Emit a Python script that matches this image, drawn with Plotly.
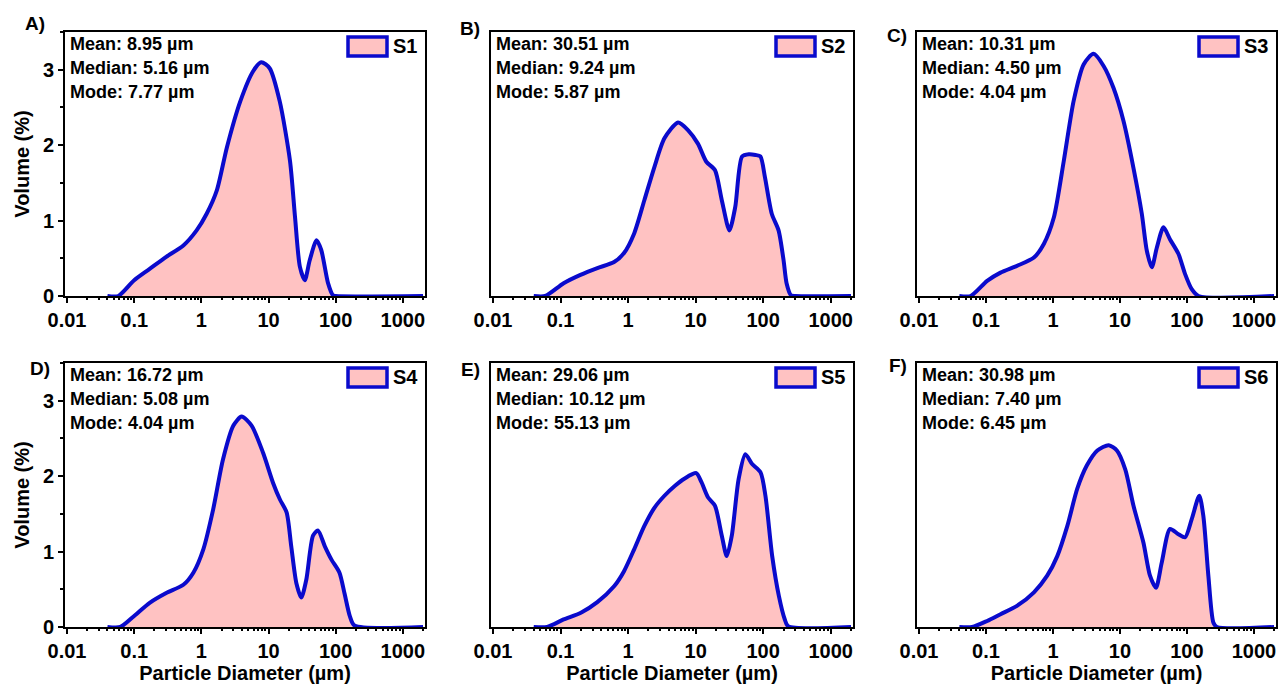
import plotly.graph_objects as go
from plotly.subplots import make_subplots

# ---------------- data ----------------
samples = ["S1", "S2", "S3", "S4", "S5", "S6"]
panel_labels = ["A)", "B)", "C)", "D)", "E)", "F)"]
stats_mean = ["8.95", "30.51", "10.31", "16.72", "29.06", "30.98"]
stats_median = ["5.16", "9.24", "4.50", "5.08", "10.12", "7.40"]
stats_mode = ["7.77", "5.87", "4.04", "4.04", "55.13", "6.45"]

d_S1 = [0.04, 0.058, 0.1, 0.17, 0.3, 0.54, 0.85, 1.2, 1.7, 2.4, 3.8, 5.9, 7.8, 10.4, 14.7,
        20.9, 24.8, 29.3, 34.7, 41, 51.9, 61, 77, 91, 100, 2000]
v_S1 = [0, 0, 0.21, 0.36, 0.52, 0.67, 0.87, 1.09, 1.40, 1.97, 2.58, 2.98, 3.10, 3.02, 2.58,
        1.79, 1.05, 0.39, 0.21, 0.47, 0.74, 0.61, 0.17, 0.01, 0, 0]

d_S2 = [0.04, 0.059, 0.111, 0.197, 0.35, 0.62, 0.87, 1.23, 1.74, 2.45, 3.45, 5.5, 7.7, 10.8,
        14.4, 19.3, 24.4, 31.6, 38.6, 48.7, 61.4, 77, 91, 106, 134, 169, 200, 222, 258, 300, 2000]
v_S2 = [0, 0, 0.17, 0.28, 0.37, 0.45, 0.57, 0.83, 1.27, 1.71, 2.09, 2.30, 2.20, 2.02,
        1.78, 1.67, 1.27, 0.87, 1.18, 1.85, 1.88, 1.87, 1.85, 1.58, 1.09, 0.87, 0.48, 0.17, 0.01, 0, 0]

d_S3 = [0.04, 0.059, 0.104, 0.165, 0.29, 0.52, 0.73, 1.03, 1.45, 2.04, 2.87, 4.03, 5.7, 8.0,
        11.3, 15.9, 21.2, 25.2, 29.9, 35.5, 44.7, 56, 74.6, 94, 118, 149, 2000]
v_S3 = [0, 0, 0.20, 0.31, 0.40, 0.51, 0.69, 1.04, 1.79, 2.59, 3.07, 3.21, 3.05, 2.76,
        2.32, 1.70, 1.09, 0.60, 0.38, 0.64, 0.91, 0.75, 0.56, 0.29, 0.09, 0, 0]

d_S4 = [0.04, 0.062, 0.098, 0.17, 0.30, 0.54, 0.76, 1.07, 1.5, 2.1, 3.0, 3.98, 5.6, 8.3, 11.7,
        14.8, 18.6, 21.8, 26, 30.8, 36.6, 46, 54.5, 69, 87, 114, 135, 163, 190, 2000]
v_S4 = [0, 0, 0.14, 0.32, 0.45, 0.56, 0.72, 1.03, 1.56, 2.22, 2.67, 2.79, 2.67, 2.31, 1.91,
        1.69, 1.52, 1.07, 0.58, 0.39, 0.63, 1.21, 1.28, 1.07, 0.89, 0.72, 0.45, 0.14, 0.02, 0]

d_S5 = [0.04, 0.063, 0.111, 0.2, 0.35, 0.62, 0.87, 1.23, 1.74, 2.45, 3.45, 4.9, 6.9, 10.2,
        12.2, 15.2, 19.3, 24.4, 28.9, 34.3, 43.3, 54.5, 68.7, 91.4, 108, 136, 171, 209, 234, 2000]
v_S5 = [0, 0, 0.10, 0.19, 0.33, 0.54, 0.74, 1.03, 1.34, 1.58, 1.74, 1.87, 1.97, 2.04,
        1.92, 1.72, 1.61, 1.21, 0.94, 1.21, 1.96, 2.29, 2.16, 2.05, 1.74, 0.94, 0.41, 0.10, 0.01, 0]

d_S6 = [0.04, 0.062, 0.104, 0.165, 0.29, 0.52, 0.82, 1.16, 1.64, 2.3, 3.2, 4.6, 6.8, 9.0,
        12.0, 15.9, 22.4, 28.1, 34.5, 42, 56, 74.6, 94, 118, 153, 176, 209, 248, 280, 2000]
v_S6 = [0, 0, 0.08, 0.17, 0.28, 0.46, 0.68, 0.94, 1.34, 1.83, 2.14, 2.34, 2.41, 2.34,
        2.09, 1.61, 1.12, 0.68, 0.52, 0.85, 1.30, 1.23, 1.19, 1.43, 1.74, 1.47, 0.68, 0.06, 0, 0]

diameters = [d_S1, d_S2, d_S3, d_S4, d_S5, d_S6]
volumes = [v_S1, v_S2, v_S3, v_S4, v_S5, v_S6]

x_tick_vals = [0.01, 0.1, 1, 10, 100, 1000]
x_tick_text = ["0.01", "0.1", "1", "10", "100", "1000"]
y_tick_vals = [0, 1, 2, 3]

# ---------------- styling ----------------
W, H = 1279, 688
FONT = "Liberation Sans, Arial, sans-serif"
LINE_BLUE = "#0A0ACC"
FILL_PINK = "#FFC2C2"

# panel pixel boxes (left, right, top, bottom)
boxes = [(65, 425, 32, 296), (491, 853, 32, 296), (917, 1276, 32, 296),
         (65, 425, 363, 627), (491, 853, 363, 627), (917, 1276, 363, 627)]
label_pos = [(35, 24), (470, 29), (897, 36), (40, 369), (470, 370), (898, 366)]

fig = make_subplots(rows=2, cols=3)

minor_x = [k * 10 ** e for e in range(-2, 4) for k in range(2, 10)]

for i in range(6):
    r, c = i // 3 + 1, i % 3 + 1
    fig.add_trace(go.Scatter(
        x=diameters[i], y=volumes[i], mode="lines",
        line=dict(color=LINE_BLUE, width=4, shape="spline", smoothing=0.7),
        fill="tozeroy", fillcolor=FILL_PINK, showlegend=False, name=samples[i]),
        row=r, col=c)

    L, R, T, B = boxes[i]
    xd = [L / W, R / W]
    yd = [1 - B / H, 1 - T / H]
    xa = "xaxis" if i == 0 else f"xaxis{i+1}"
    ya = "yaxis" if i == 0 else f"yaxis{i+1}"
    first_col = (c == 1)
    bottom_row = (r == 2)
    fig.layout[xa].update(
        domain=xd, type="log", range=[-2.03, 3.33], automargin=False,
        tickvals=x_tick_vals, ticktext=x_tick_text,
        ticks="outside", ticklen=5, tickwidth=2, tickcolor="black",
        minor=dict(tickvals=minor_x, ticks="outside", ticklen=2, tickwidth=1.5, tickcolor="black"),
        showline=True, linecolor="black", linewidth=2, mirror=True,
        showgrid=False, zeroline=False,
        tickfont=dict(family=FONT, size=20, color="black", weight="bold"),
        title=dict(text="Particle Diameter (µm)" if bottom_row else "",
                   font=dict(family=FONT, size=20, color="black", weight="bold"),
                   standoff=4),
    )
    fig.layout[ya].update(
        domain=yd, range=[0, 3.5], automargin=False,
        showline=True, linecolor="black", linewidth=2, mirror=True,
        showgrid=False, zeroline=False,
        tickvals=y_tick_vals if first_col else [],
        ticks="outside" if first_col else "", ticklen=5, tickwidth=2, tickcolor="black",
        minor=dict(dtick=0.5, ticks="outside" if first_col else "", ticklen=3, tickwidth=1.5,
                   tickcolor="black"),
        showticklabels=first_col,
        tickfont=dict(family=FONT, size=20, color="black", weight="bold"),
        title=dict(text="Volume (%)" if first_col else "",
                   font=dict(family=FONT, size=20, color="black", weight="bold"),
                   standoff=8),
    )

    xref = "x" if i == 0 else f"x{i+1}"
    yref = "y" if i == 0 else f"y{i+1}"
    pw, ph = R - L, B - T
    # statistics text
    for j, (lab, val) in enumerate([("Mean", stats_mean[i]), ("Median", stats_median[i]),
                                     ("Mode", stats_mode[i])]):
        fig.add_annotation(
            xref=f"{xref} domain", yref=f"{yref} domain",
            x=3 / pw, y=1 - (12 + 24 * j) / ph, xanchor="left", yanchor="middle",
            text=f"{lab}: {val} µm", showarrow=False,
            font=dict(family=FONT, size=18, color="black", weight="bold"))
    # legend box
    fig.add_shape(type="rect", xref=f"{xref} domain", yref=f"{yref} domain",
                  x0=1 - 77 / pw, x1=1 - 38 / pw, y0=1 - 24 / ph, y1=1 - 5 / ph,
                  fillcolor=FILL_PINK, line=dict(color=LINE_BLUE, width=3.5))
    fig.add_annotation(
        xref=f"{xref} domain", yref=f"{yref} domain",
        x=1 - 34 / pw, y=1 - 14 / ph, xanchor="left", yanchor="middle",
        text=samples[i], showarrow=False,
        font=dict(family=FONT, size=20, color="black", weight="bold"))
    # panel label
    lx, ly = label_pos[i]
    fig.add_annotation(xref="paper", yref="paper", x=lx / W, y=1 - ly / H,
                       xanchor="center", yanchor="middle", text=panel_labels[i],
                       showarrow=False,
                       font=dict(family=FONT, size=19, color="black", weight="bold"))

fig.update_layout(
    width=W, height=H, margin=dict(l=0, r=0, t=0, b=0),
    paper_bgcolor="white", plot_bgcolor="white",
    showlegend=False,
)

fig.write_html("out.html", config={"displayModeBar": False},
               post_script="document.body.style.margin='0';document.body.style.overflow='hidden';")
